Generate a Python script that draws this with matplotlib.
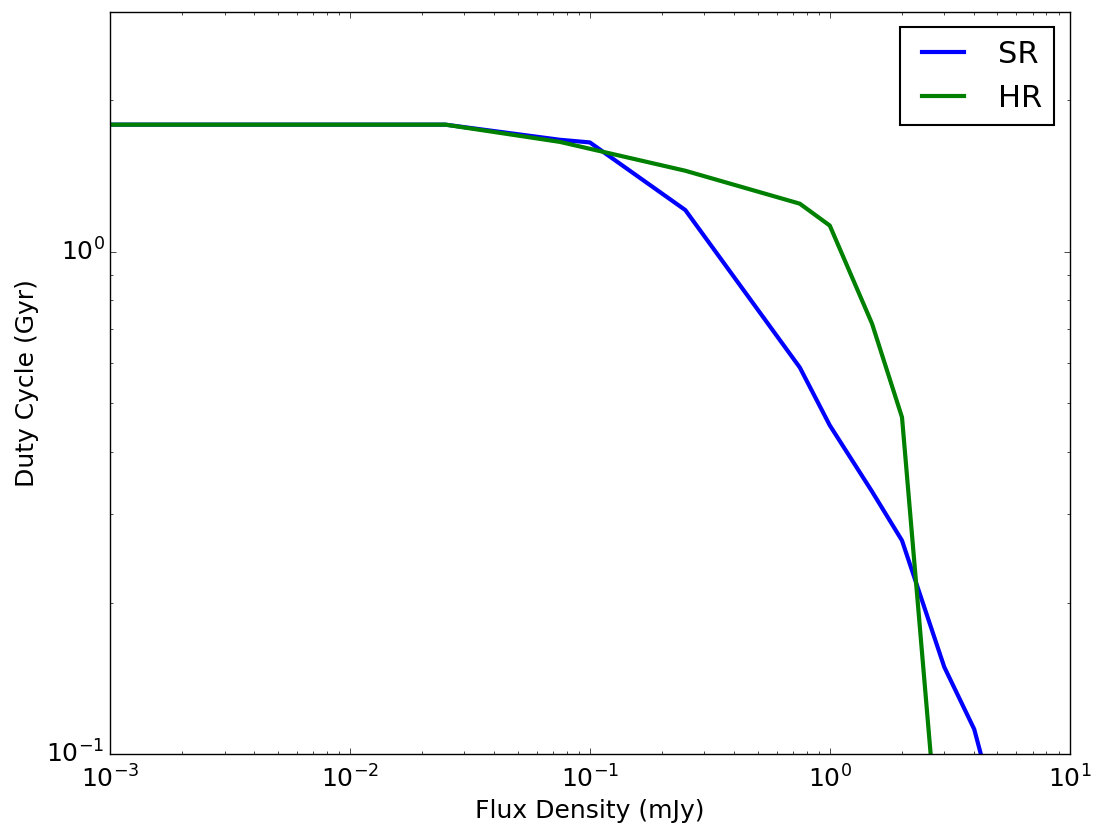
import matplotlib
matplotlib.use("Agg")
import matplotlib.pyplot as plt

plt.style.use("classic")
plt.rcParams["axes.unicode_minus"] = False

sr_x = [0.001, 0.025, 0.075, 0.1, 0.25, 0.75, 1.0, 1.5, 2.0, 3.0, 4.0, 5.0]
sr_y = [1.79, 1.79, 1.67, 1.65, 1.21, 0.588, 0.451, 0.333, 0.266, 0.149, 0.112, 0.075]

hr_x = [0.001, 0.025, 0.075, 0.25, 0.75, 1.0, 1.5, 2.0, 3.0]
hr_y = [1.79, 1.79, 1.654, 1.449, 1.246, 1.127, 0.719, 0.468, 0.048]

fig = plt.figure(figsize=(10.96, 8.34), dpi=100, facecolor="white")
ax = fig.add_axes([0.1004, 0.096, 0.8756, 0.8896])
ax.set_facecolor("white")

ax.loglog(sr_x, sr_y, color="blue", lw=3, label="SR")
ax.loglog(hr_x, hr_y, color="green", lw=3, label="HR")

ax.set_xlim(1e-3, 1e1)
ax.set_ylim(0.1, 3.0)
ax.set_xlabel("Flux Density (mJy)", fontsize=18)
ax.set_ylabel("Duty Cycle (Gyr)", fontsize=18)
ax.tick_params(labelsize=18)
ax.tick_params(axis="x", pad=8)

leg = ax.legend(loc="upper right", fontsize=22, frameon=True, fancybox=False,
                shadow=False, handlelength=2.0)
leg.get_frame().set_edgecolor("black")
leg.get_frame().set_linewidth(1.5)

fig.savefig("out.png", dpi=100, facecolor="white")
